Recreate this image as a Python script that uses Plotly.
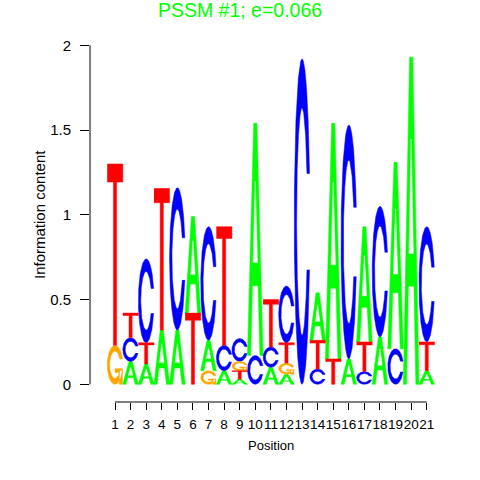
import numpy as np
import plotly.graph_objects as go

positions = list(range(1, 22))
letters = ["A", "C", "G", "T"]
height_A = [0.00, 0.135, 0.12, 0.32, 0.32, 0.57, 0.18, 0.08, 0.03, 1.37, 0.10,
            0.06, 0.00, 0.28, 1.39, 0.15, 0.68, 0.28, 1.10, 1.93, 0.08]
height_C = [0.00, 0.14, 0.495, 0.00, 0.84, 0.00, 0.67, 0.15, 0.135, 0.17, 0.12,
            0.335, 1.92, 0.09, 0.00, 1.38, 0.075, 0.77, 0.21, 0.00, 0.68]
height_G = [0.23, 0.00, 0.00, 0.00, 0.00, 0.00, 0.08, 0.00, 0.055, 0.00, 0.00,
            0.065, 0.00, 0.00, 0.00, 0.00, 0.00, 0.00, 0.00, 0.00, 0.00]
height_T = [1.07, 0.145, 0.125, 0.835, 0.00, 0.42, 0.00, 0.70, 0.05, 0.00, 0.28,
            0.12, 0.00, 0.17, 0.15, 0.00, 0.175, 0.00, 0.00, 0.00, 0.17]
y_ticks = [0, 0.5, 1, 1.5, 2]
y_tick_labels = ["0", "0.5", "1", "1.5", "2"]
title_text = "PSSM #1; e=0.066"
x_title = "Position"
y_title = "Information content"

colors = {"A": "#00FF00", "C": "#0000FF", "G": "#FFA500", "T": "#FF0000"}
heights = {"A": height_A, "C": height_C, "G": height_G, "T": height_T}

# ---- glyph outlines in a unit box (seqLogo style) ----
def _c_outline():
    a1 = np.linspace(0.3 + np.pi / 2, np.pi, 100)
    a2 = np.linspace(np.pi, 1.5 * np.pi, 100)
    xl1, yl1 = 0.5 + 0.5 * np.sin(a1), 0.5 + 0.5 * np.cos(a1)
    xl2, yl2 = 0.5 + 0.5 * np.sin(a2), 0.5 + 0.5 * np.cos(a2)
    xl = np.concatenate([xl1, xl2]); yl = np.concatenate([yl1, yl2])
    x = np.concatenate([xl, xl[::-1]]); y = np.concatenate([yl, 1 - yl[::-1]])
    xi1, yi1 = 0.5 + 0.35 * np.sin(a1), 0.5 + 0.35 * np.cos(a1)
    keep = yi1 <= yl1.max()
    xi1, yi1 = xi1[keep], yi1[keep].copy()
    yi1[0] = yl1.max()
    xi2, yi2 = 0.5 + 0.35 * np.sin(a2), 0.5 + 0.35 * np.cos(a2)
    xi = np.concatenate([xi1, xi2]); yi = np.concatenate([yi1, yi2])
    x1 = np.concatenate([xi, xi[::-1]]); y1 = np.concatenate([yi, 1 - yi[::-1]])
    x = np.concatenate([x, x1[::-1]]); y = np.concatenate([y, y1[::-1]])
    return x, y, xl1.max()

def glyph(letter):
    """return (filled polygons, white hole polygons) in unit box"""
    if letter == "A":
        outer = (np.array([0, 4, 6, 10, 8, 6.8, 3.2, 2, 0]) / 10,
                 np.array([0, 10, 10, 0, 0, 3, 3, 0, 0]) / 10)
        hole = (np.array([3.6, 5, 6.4, 3.6]) / 10, np.array([4, 7.5, 4, 4]) / 10)
        return [outer], [hole]
    if letter == "T":
        return [(np.array([0, 10, 10, 6, 6, 4, 4, 0]) / 10,
                 np.array([10, 10, 9, 9, 0, 0, 9, 9]) / 10)], []
    x, y, r1 = _c_outline()
    if letter == "C":
        return [(x, y)], []
    h1 = 0.4
    bar = (np.array([r1, 0.5, 0.5, r1 - 0.2, r1 - 0.2, r1, r1]),
           np.array([h1, h1, h1 - 0.1, h1 - 0.1, 0, 0, h1]))
    return [(x, y), bar], []

# ---- build stacked letters ----
polys = {l: ([], []) for l in letters}
holes = ([], [])
for i, pos in enumerate(positions):
    col = sorted([(heights[l][i], l) for l in letters], key=lambda t: t[0])
    base = 0.0
    for h, l in col:
        if h <= 0:
            continue
        fills, hls = glyph(l)
        for gx, gy in fills:
            polys[l][0].extend(list(pos - 0.5 + gx) + [None])
            polys[l][1].extend(list(base + gy * h) + [None])
        for gx, gy in hls:
            holes[0].extend(list(pos - 0.5 + gx) + [None])
            holes[1].extend(list(base + gy * h) + [None])
        base += h

fig = go.Figure()
for l in letters:
    fig.add_trace(go.Scatter(x=polys[l][0], y=polys[l][1], mode="lines",
                             fill="toself", fillcolor=colors[l],
                             line=dict(color=colors[l], width=0.5),
                             hoverinfo="skip", showlegend=False))
fig.add_trace(go.Scatter(x=holes[0], y=holes[1], mode="lines", fill="toself",
                         fillcolor="white", line=dict(color="white", width=0.5),
                         hoverinfo="skip", showlegend=False))

font = "Liberation Sans, Arial, Helvetica, sans-serif"
fig.update_layout(
    width=480, height=480,
    margin=dict(l=90, r=28, t=28, b=78),
    paper_bgcolor="white", plot_bgcolor="white",
    title=dict(text=title_text, x=0.5, xref="container", xanchor="center",
               y=1 - 10 / 480, yref="container", yanchor="middle",
               font=dict(family=font, size=19.5, color="#00FF00")),
    xaxis=dict(range=[-0.604, 22.62], tickvals=positions,
               ticktext=[str(p) for p in positions], tickangle=0,
               ticks="outside", ticklen=7, tickcolor="#000", tickwidth=1,
               showline=False, showgrid=False, zeroline=False,
               tickfont=dict(family=font, size=13.5, color="#000"),
               ticklabelstandoff=3, fixedrange=True),
    yaxis=dict(range=[-0.1044, 2.102], tickvals=y_ticks, ticktext=y_tick_labels,
               ticks="outside", ticklen=9, tickcolor="#000", tickwidth=1,
               showline=False, showgrid=False, zeroline=False,
               tickfont=dict(family=font, size=15, color="#000"),
               ticklabelstandoff=6, fixedrange=True),
    annotations=[
        dict(text=x_title, xref="paper", yref="paper", x=0.5, y=0,
             xanchor="center", yanchor="middle", yshift=-43.5, showarrow=False,
             font=dict(family=font, size=13, color="#000")),
        dict(text=y_title, xref="paper", yref="paper", x=0, y=0.5,
             xanchor="center", yanchor="middle", xshift=-51, textangle=-90,
             showarrow=False, font=dict(family=font, size=15, color="#000")),
    ],
    shapes=[
        dict(type="line", xref="x", yref="paper", x0=positions[0], x1=positions[-1],
             y0=0, y1=0, line=dict(color="#000", width=1)),
        dict(type="line", xref="paper", yref="y", x0=0, x1=0,
             y0=y_ticks[0], y1=y_ticks[-1], line=dict(color="#000", width=1)),
    ],
)
fig.write_html("out.html", config={"displayModeBar": False},
               post_script="document.body.style.margin='0';")
